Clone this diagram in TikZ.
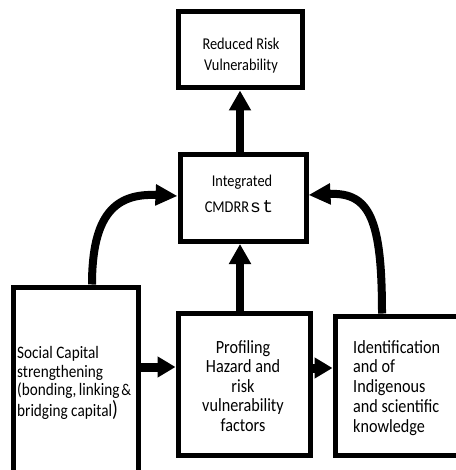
\documentclass[tikz,border=0pt]{standalone}
\usepackage{fontspec}
\setmainfont{Carlito}[FakeStretch=0.87]
\newfontfamily\monofont{Liberation Mono}
\usetikzlibrary{arrows.meta}
\tikzset{
  box/.style={draw, line width=5pt, rectangle, inner sep=0pt},
  txt/.style={inner sep=0pt, anchor=base},
  arr/.style={line width=8pt, -{Triangle[length=20pt,width=21pt]}},
  harr/.style={line width=9pt, -{Triangle[length=18pt,width=20pt]}},
  carr/.style={line width=8pt, -{Triangle[length=22pt,width=20pt]}},
}
\begin{document}
\begin{tikzpicture}[x=1pt,y=-1pt]
\useasboundingbox (0,0) rectangle (455,470);
% boxes
\node[box, minimum width=124pt, minimum height=76pt] (red) at (240,50) {};
\node[box, minimum width=126pt, minimum height=87pt] (int) at (243,198) {};
\node[box, minimum width=125pt, minimum height=192pt] (soc) at (75.5,383) {};
\node[box, minimum width=132pt, minimum height=142pt] (pro) at (244,384) {};
\node[box, minimum width=134pt, minimum height=139pt] (idf) at (402,385.5) {};
% texts (base anchor = baseline of the last line)
\node[txt, align=center, font=\fontsize{16.5}{21}\selectfont] (redt) at (241,71) {Reduced Risk\\Vulnerability};
\node[txt, font=\fontsize{16.5}{21}\selectfont] (intt1) at (242,186) {Integrated};
\node[txt, font=\fontsize{16.5}{21}\selectfont] (intt2) at (239,212) {CMDRR\hspace{1pt}{\monofont\fontsize{18}{18}\selectfont s\hspace{1.5pt}t}};
\node[txt, align=center, font=\fontsize{18.6}{19.5}\selectfont] (prot) at (243,431) {Profiling\\Hazard and\\risk\\vulnerability\\factors};
\node[txt, anchor=base west, align=left, font=\fontsize{18.6}{19.7}\selectfont] (idft) at (353,432) {Identification\\and of\\Indigenous\\and scientific\\knowledge};
\node[txt, anchor=base west, align=left, font=\fontsize{17.5}{18.7}\selectfont] (soct) at (17,416) {Social Capital\\strengthening\\(bonding,\hspace{-1pt} linking\hspace{-1.5pt} {\fontsize{16.5}{18.7}\selectfont\&}\\bridging capital{\fontsize{22}{18.7}\selectfont )}};
% arrows
\draw[arr] (int.north -| red.south) -- (red.south);
\draw[arr] (pro.north -| red.south) -- (int.south -| red.south);
\draw[harr] ([yshift=16pt]soc.east) -- ([yshift=16pt]soc.east -| pro.west);
\draw[harr] ([yshift=16pt]pro.east) -- ([yshift=16pt]pro.east -| idf.west);
\draw[carr] ([xshift=16.5pt]soc.north) .. controls (92,215) and (115,193) .. ([yshift=2pt]int.west);
\draw[carr] ([xshift=-20pt]idf.north) .. controls (382,220) and (370,192) .. ([yshift=3pt]int.east);
\end{tikzpicture}
\end{document}
